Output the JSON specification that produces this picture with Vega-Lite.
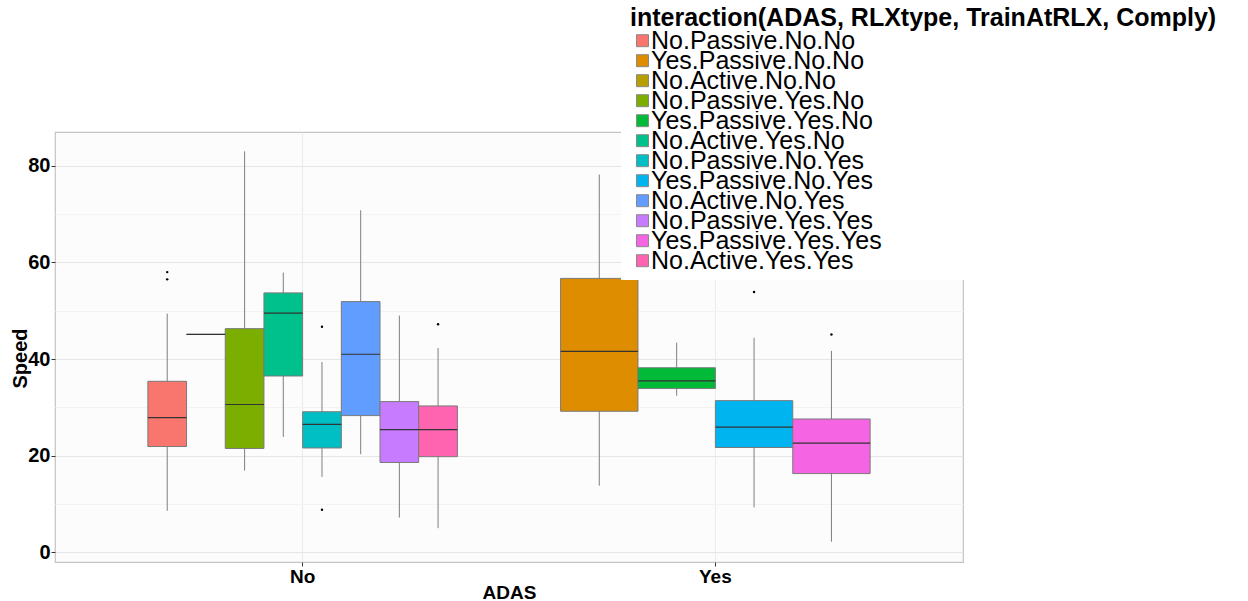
{
  "$schema": "https://vega.github.io/schema/vega-lite/v6.json",
  "autosize": {"type": "none"},
  "width": 908,
  "height": 430,
  "padding": {"left": 55, "top": 132, "right": 285, "bottom": 39},
  "background": "white",
  "config": {
    "font": "Liberation Sans",
    "view": {"stroke": "#C4C4C4", "strokeWidth": 1.2, "fill": "#FCFCFC"}
  },
  "datasets": {
    "stats": [
      {"ADAS": "No", "group": "No.Passive.No.No", "lower": 8.6, "q1": 21.9, "median": 27.9, "q3": 35.4, "upper": 49.4},
      {"ADAS": "No", "group": "No.Active.No.No", "lower": 45.1, "q1": 45.1, "median": 45.1, "q3": 45.1, "upper": 45.1},
      {"ADAS": "No", "group": "No.Passive.Yes.No", "lower": 16.9, "q1": 21.5, "median": 30.6, "q3": 46.3, "upper": 83.0},
      {"ADAS": "No", "group": "No.Active.Yes.No", "lower": 23.9, "q1": 36.5, "median": 49.5, "q3": 53.7, "upper": 57.9},
      {"ADAS": "No", "group": "No.Passive.No.Yes", "lower": 15.6, "q1": 21.6, "median": 26.5, "q3": 29.1, "upper": 39.4},
      {"ADAS": "No", "group": "No.Active.No.Yes", "lower": 20.3, "q1": 28.3, "median": 41.0, "q3": 51.9, "upper": 70.8},
      {"ADAS": "No", "group": "No.Passive.Yes.Yes", "lower": 7.2, "q1": 18.6, "median": 25.4, "q3": 31.2, "upper": 49.0},
      {"ADAS": "No", "group": "No.Active.Yes.Yes", "lower": 5.0, "q1": 19.8, "median": 25.4, "q3": 30.3, "upper": 42.3},
      {"ADAS": "Yes", "group": "Yes.Passive.No.No", "lower": 13.8, "q1": 29.2, "median": 41.6, "q3": 56.7, "upper": 78.2},
      {"ADAS": "Yes", "group": "Yes.Passive.Yes.No", "lower": 32.4, "q1": 33.9, "median": 35.5, "q3": 38.2, "upper": 43.4},
      {"ADAS": "Yes", "group": "Yes.Passive.No.Yes", "lower": 9.3, "q1": 21.7, "median": 25.9, "q3": 31.4, "upper": 44.4},
      {"ADAS": "Yes", "group": "Yes.Passive.Yes.Yes", "lower": 2.2, "q1": 16.3, "median": 22.6, "q3": 27.6, "upper": 41.7}
    ],
    "outliers": [
      {"ADAS": "No", "group": "No.Passive.No.No", "value": 58.0},
      {"ADAS": "No", "group": "No.Passive.No.No", "value": 56.5},
      {"ADAS": "No", "group": "No.Passive.No.Yes", "value": 46.7},
      {"ADAS": "No", "group": "No.Passive.No.Yes", "value": 8.8},
      {"ADAS": "No", "group": "No.Active.Yes.Yes", "value": 47.2},
      {"ADAS": "Yes", "group": "Yes.Passive.No.Yes", "value": 53.9},
      {"ADAS": "Yes", "group": "Yes.Passive.Yes.Yes", "value": 45.1}
    ]
  },
  "encoding": {
    "x": {
      "field": "ADAS", "type": "nominal",
      "scale": {"domain": ["No", "Yes"], "paddingInner": 0.25, "paddingOuter": 0.225},
      "axis": {
        "title": "ADAS", "labelAngle": 0, "grid": true, "gridColor": "#EBEBEB", "bandPosition": 0.5,
        "domain": false, "tickColor": "#333333", "tickSize": 4, "labelPadding": 1,
        "labelFontSize": 19, "labelFontWeight": "bold", "labelColor": "black",
        "titleFontSize": 19, "titleFontWeight": "bold", "titleColor": "black",
        "titleY": 21, "titleBaseline": "top"
      }
    }
  },
  "layer": [
    {
      "encoding": {
        "xOffset": {"field": "group", "type": "nominal", "scale": {"domain": ["No.Passive.No.No", "No.Active.No.No", "No.Passive.Yes.No", "No.Active.Yes.No", "No.Passive.No.Yes", "No.Active.No.Yes", "No.Passive.Yes.Yes", "No.Active.Yes.Yes"], "paddingInner": 0, "paddingOuter": 0}}
      },
      "layer": [
        {
          "data": {"name": "stats"},
          "transform": [{"filter": "datum.ADAS === 'No'"}],
          "layer": [
            {
              "mark": {"type": "rule", "color": "#7F7F7F", "strokeWidth": 1},
              "encoding": {
                "y": {"field": "lower", "type": "quantitative", "scale": {"domain": [-2, 87], "nice": false, "zero": false},
                  "axis": {
                    "title": "Speed", "values": [0, 10, 20, 30, 40, 50, 60, 70, 80],
                    "labelExpr": "datum.value % 20 === 0 ? datum.label : ''",
                    "grid": true,
                    "gridColor": {"condition": {"test": "datum.value % 20 === 0", "value": "#E6E6E6"}, "value": "#F3F3F3"},
                    "tickOpacity": {"condition": {"test": "datum.value % 20 === 0", "value": 1}, "value": 0},
                    "tickColor": "#333333", "tickSize": 4, "labelPadding": 1, "domain": false,
                    "labelFontSize": 20, "labelFontWeight": "bold", "labelColor": "black",
                    "titleFontSize": 20, "titleFontWeight": "bold", "titleColor": "black",
                    "titleX": -35, "titleY": 226, "titleAlign": "center", "titleBaseline": "middle", "titleAngle": -90
                  }
                },
                "y2": {"field": "upper"}
              }
            },
            {
              "mark": {"type": "bar", "stroke": "#7A7A7A", "strokeWidth": 1},
              "encoding": {
                "y": {"field": "q1", "type": "quantitative", "title": "Speed"},
                "y2": {"field": "q3"},
                "color": {
                  "field": "group", "type": "nominal",
                  "scale": {
                    "domain": ["No.Passive.No.No", "Yes.Passive.No.No", "No.Active.No.No", "No.Passive.Yes.No", "Yes.Passive.Yes.No", "No.Active.Yes.No", "No.Passive.No.Yes", "Yes.Passive.No.Yes", "No.Active.No.Yes", "No.Passive.Yes.Yes", "Yes.Passive.Yes.Yes", "No.Active.Yes.Yes"],
                    "range": ["#F8766D", "#DE8C00", "#B79F00", "#7CAE00", "#00BA38", "#00C08B", "#00BFC4", "#00B4F0", "#619CFF", "#C77CFF", "#F564E3", "#FF64B0"]
                  },
                  "legend": {
                    "title": "interaction(ADAS, RLXtype, TrainAtRLX, Comply)",
                    "orient": "none", "legendX": 566, "legendY": -135,
                    "fillColor": "white", "padding": 9,
                    "titleFontSize": 25, "titleFontWeight": "bold", "titleColor": "black", "titlePadding": 0, "titleLimit": 900,
                    "labelFontSize": 25, "labelColor": "black", "labelOffset": -4,
                    "rowPadding": 0, "clipHeight": 19.4, "symbolType": "square", "symbolSize": 144,
                    "symbolStrokeColor": "#8A8A8A", "symbolStrokeWidth": 1, "symbolOpacity": 1,
                    "labelLimit": 900,
                    "encode": {"entries": {"update": {"clip": {"value": true}, "height": {"value": 19.4}, "width": {"value": 300}}}}
                  }
                }
              }
            },
            {
              "mark": {"type": "bar", "stroke": "#333333", "strokeWidth": 1.2, "fillOpacity": 0},
              "encoding": {
                "y": {"field": "median", "type": "quantitative", "title": "Speed"},
                "y2": {"field": "median"}
              }
            }
          ]
        },
        {
          "data": {"name": "outliers"},
          "transform": [{"filter": "datum.ADAS === 'No'"}],
          "mark": {"type": "point", "filled": true, "color": "black", "size": 6, "opacity": 1},
          "encoding": {
            "y": {"field": "value", "type": "quantitative", "title": "Speed"}
          }
        }
      ]
    },
    {
      "encoding": {
        "xOffset": {"field": "group", "type": "nominal", "scale": {"domain": ["Yes.Passive.No.No", "Yes.Passive.Yes.No", "Yes.Passive.No.Yes", "Yes.Passive.Yes.Yes"], "paddingInner": 0, "paddingOuter": 0}}
      },
      "layer": [
        {
          "data": {"name": "stats"},
          "transform": [{"filter": "datum.ADAS === 'Yes'"}],
          "layer": [
            {
              "mark": {"type": "rule", "color": "#7F7F7F", "strokeWidth": 1},
              "encoding": {
                "y": {"field": "lower", "type": "quantitative", "title": "Speed"},
                "y2": {"field": "upper"}
              }
            },
            {
              "mark": {"type": "bar", "stroke": "#7A7A7A", "strokeWidth": 1},
              "encoding": {
                "y": {"field": "q1", "type": "quantitative", "title": "Speed"},
                "y2": {"field": "q3"},
                "color": {"field": "group", "type": "nominal"}
              }
            },
            {
              "mark": {"type": "bar", "stroke": "#333333", "strokeWidth": 1.2, "fillOpacity": 0},
              "encoding": {
                "y": {"field": "median", "type": "quantitative", "title": "Speed"},
                "y2": {"field": "median"}
              }
            }
          ]
        },
        {
          "data": {"name": "outliers"},
          "transform": [{"filter": "datum.ADAS === 'Yes'"}],
          "mark": {"type": "point", "filled": true, "color": "black", "size": 6, "opacity": 1},
          "encoding": {
            "y": {"field": "value", "type": "quantitative", "title": "Speed"}
          }
        }
      ]
    }
  ],
  "resolve": {"scale": {"xOffset": "independent"}}
}
